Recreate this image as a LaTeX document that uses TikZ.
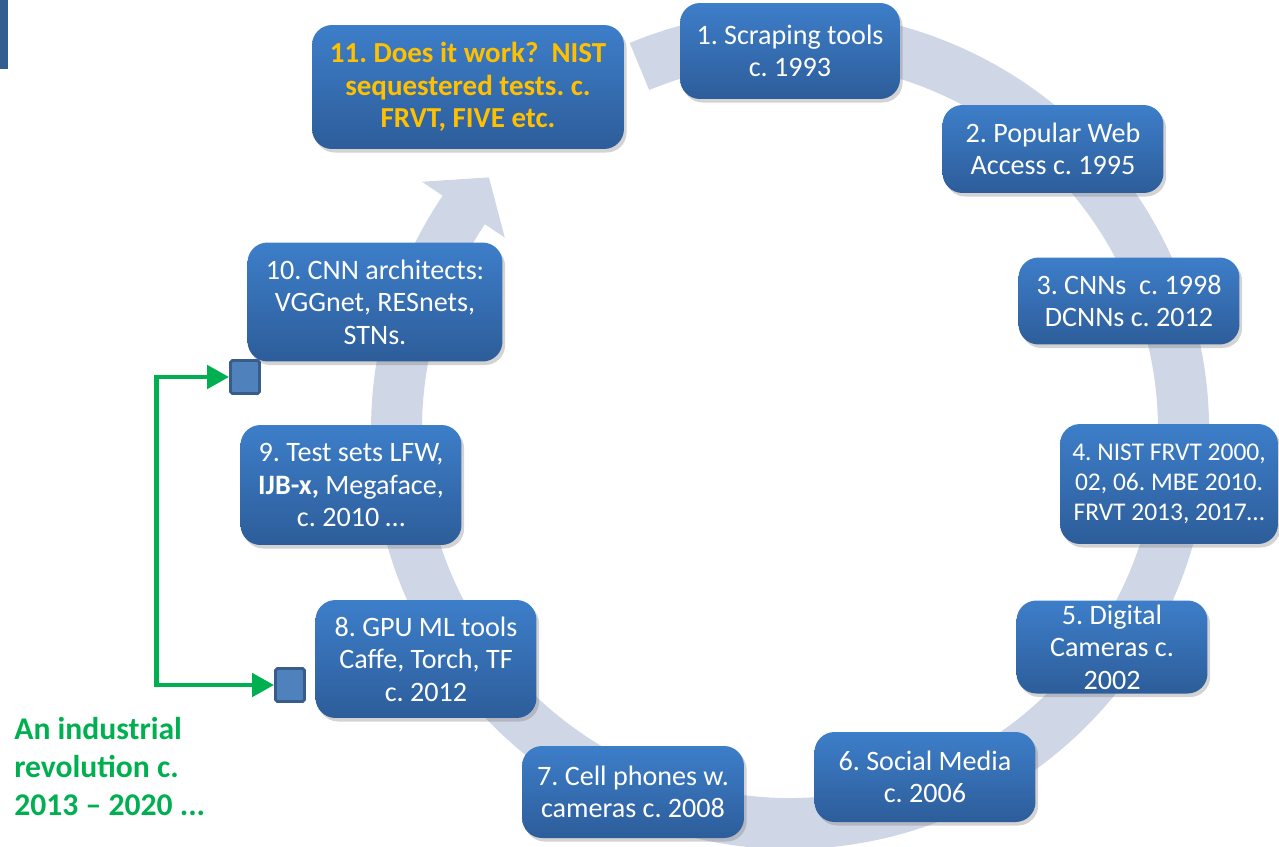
\documentclass[tikz,border=0pt]{standalone}
\usepackage{fontspec}
\setmainfont{Carlito}
\frenchspacing
\usetikzlibrary{calc,shadows,arrows.meta}
\definecolor{ringgrey}{RGB}{207,214,229}
\definecolor{boxtop}{RGB}{61,126,201}
\definecolor{boxbot}{RGB}{45,93,154}
\definecolor{gold}{RGB}{255,192,0}
\definecolor{revgreen}{RGB}{0,176,80}
\definecolor{sqfill}{RGB}{79,129,189}
\definecolor{sqline}{RGB}{56,93,138}
\definecolor{barblue}{RGB}{52,94,145}
\begin{document}
\begin{tikzpicture}
  [x=0.02cm,y=-0.02cm,
   stage/.style={rounded corners=0.4cm,top color=boxtop,bottom color=boxbot,
     text=white,align=center,inner sep=0pt,
     font=\fontsize{16}{18.5}\selectfont,
     drop shadow={opacity=0.35,shadow xshift=1.5pt,shadow yshift=-2pt}},
   tag/.style={rounded corners=1pt,fill=sqfill,draw=sqline,line width=1.6pt,
     minimum width=0.58cm,minimum height=0.66cm,inner sep=0pt},
   gline/.style={revgreen,line width=2.8pt,
     {Triangle[length=0.44cm,width=0.46cm]}-{Triangle[length=0.44cm,width=0.46cm]}}]
  \useasboundingbox (0,0) rectangle (1279,846);
  \fill[barblue] (0,0) rectangle (8,69);

  % the cycle behind the stages
  \coordinate (c) at (790,430);
  \fill[ringgrey] ($(c)+(-112.5:419)$) arc[start angle=-112.5,end angle=214,radius=419]
    -- ($(c)+(214:444)$) -- ($(c)+(220:393)$) -- ($(c)+(214:344)$)
    -- ($(c)+(214:368)$) arc[start angle=214,end angle=-112.5,radius=368] -- cycle;

  \node[stage,minimum width=4.40cm,minimum height=1.92cm] (s1) at (790,51)
    {1. Scraping tools\\c. 1993};
  \node[stage,minimum width=4.42cm,minimum height=1.76cm] (s2) at (1053,149)
    {2. Popular Web\\Access c. 1995};
  \node[stage,minimum width=4.42cm,minimum height=1.74cm] (s3) at (1129,301)
    {3. CNNs~~c. 1998\\DCNNs c. 2012};
  \node[stage,minimum width=4.36cm,minimum height=2.40cm,
    font=\fontsize{14.5}{17}\selectfont] (s4) at (1169,484)
    {4. NIST FRVT 2000,\\02, 06. MBE 2010.\\FRVT 2013, 2017\dots};
  \node[stage,minimum width=3.82cm,minimum height=1.86cm] (s5) at (1112,647)
    {5. Digital\\Cameras c.\\2002};
  \node[stage,minimum width=4.42cm,minimum height=1.80cm] (s6) at (925,777)
    {6. Social Media\\c. 2006};
  \node[stage,minimum width=4.44cm,minimum height=1.84cm] (s7) at (633,792)
    {7. Cell phones w.\\cameras c. 2008};
  \node[stage,minimum width=4.42cm,minimum height=2.36cm] (s8) at (426,659)
    {8. GPU ML tools\\Caffe, Torch, TF\\c. 2012};
  \node[stage,minimum width=4.42cm,minimum height=2.40cm] (s9) at (351,485)
    {9. Test sets LFW,\\\textbf{IJB-x,} Megaface,\\c. 2010 \dots};
  \node[stage,minimum width=5.10cm,minimum height=2.38cm] (s10) at (375,302)
    {10. CNN architects:\\VGGnet, RESnets,\\STNs.};
  \node[stage,minimum width=6.24cm,minimum height=2.48cm,text=gold,
    font=\fontsize{16.5}{18.5}\selectfont\bfseries] (s11) at (468,87)
    {11. Does it work?~~NIST\\sequestered tests. c.\\FRVT, FIVE etc.};

  % industrial revolution span
  \node[tag] (sqa) at (245,377) {};
  \node[tag] (sqb) at (290,685) {};
  \draw[gline] (sqa.west) -- ++(-73,0) |- (sqb.west);
  \node[anchor=north west,align=left,text=revgreen,inner sep=0pt,
    font=\fontsize{18}{21.6}\selectfont\bfseries] (rev) at (14,717)
    {An industrial\\revolution c.\\2013 -- 2020 ...};
\end{tikzpicture}
\end{document}
